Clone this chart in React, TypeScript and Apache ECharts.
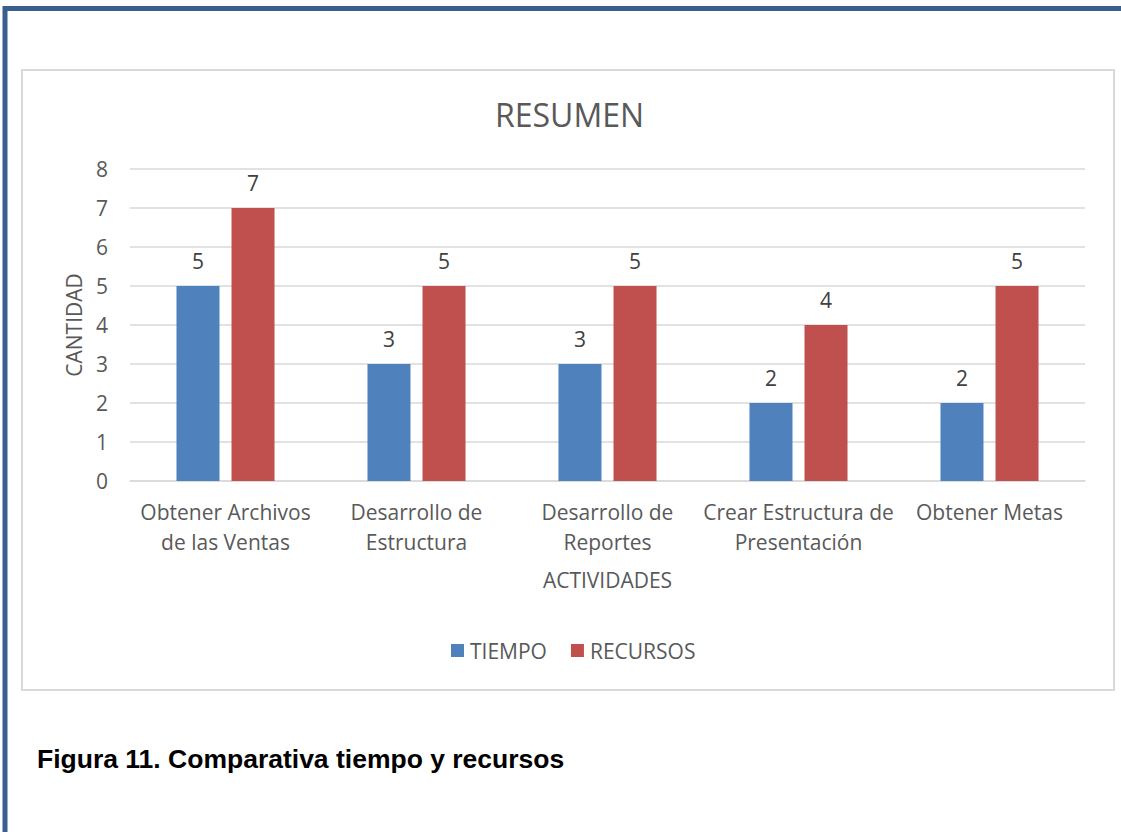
import React, { useEffect, useRef } from "react";
import * as echarts from "echarts";

const categories = [
  "Obtener Archivos\nde las Ventas",
  "Desarrollo de\nEstructura",
  "Desarrollo de\nReportes",
  "Crear Estructura de\nPresentación",
  "Obtener Metas",
];
const tiempo = [5, 3, 3, 2, 2];
const recursos = [7, 5, 5, 4, 5];
const seriesNames = ["TIEMPO", "RECURSOS"];
const titleText = "RESUMEN";
const yName = "CANTIDAD";
const xName = "ACTIVIDADES";
const caption = "Figura 11. Comparativa tiempo y recursos";

const FONT = "'Open Sans', Lato, sans-serif";
const TXT = "#595959";

export default function App() {
  const ref = useRef<HTMLDivElement>(null);
  useEffect(() => {
    const chart = echarts.init(ref.current!, null, { renderer: "svg" });
    chart.setOption({
      animation: false,
      backgroundColor: "#ffffff",
      textStyle: { fontFamily: FONT },
      title: {
        text: titleText,
        left: 490,
        top: 93,
        textStyle: { fontFamily: FONT, fontSize: 32, fontWeight: "normal", color: TXT },
      },
      legend: {
        data: seriesNames,
        top: 635,
        left: 446,
        itemWidth: 13,
        itemHeight: 13,
        itemGap: 24,
        icon: "rect",
        textStyle: { fontFamily: FONT, fontSize: 21, color: TXT, padding: [0, 0, 0, 1] },
      },
      grid: { left: 130, right: 36, top: 169, bottom: 351, containLabel: false },
      xAxis: {
        type: "category",
        data: categories,
        name: xName,
        nameLocation: "middle",
        nameGap: 88,
        nameTextStyle: { fontFamily: FONT, fontSize: 21, color: TXT },
        axisLine: { lineStyle: { color: "#d9d9d9", width: 1.5 } },
        axisTick: { show: false },
        axisLabel: { fontFamily: FONT, fontSize: 21, color: TXT, lineHeight: 30, margin: 16, interval: 0 },
      },
      yAxis: {
        type: "value",
        min: 0,
        max: 8,
        interval: 1,
        name: yName,
        nameLocation: "middle",
        nameGap: 46,
        nameTextStyle: { fontFamily: FONT, fontSize: 21, color: TXT },
        axisLine: { show: false },
        axisTick: { show: false },
        axisLabel: { fontFamily: FONT, fontSize: 21, color: TXT, margin: 22 },
        splitLine: { lineStyle: { color: "#d9d9d9", width: 1.5 } },
      },
      series: [
        {
          name: seriesNames[0],
          type: "bar",
          data: tiempo,
          barWidth: 43,
          barGap: "28%",
          itemStyle: { color: "#4f81bd" },
          label: { show: true, position: "top", distance: 15, fontFamily: FONT, fontSize: 21, color: "#404040" },
        },
        {
          name: seriesNames[1],
          type: "bar",
          data: recursos,
          barWidth: 43,
          itemStyle: { color: "#c0504d" },
          label: { show: true, position: "top", distance: 15, fontFamily: FONT, fontSize: 21, color: "#404040" },
        },
      ],
      graphic: [
        {
          type: "rect",
          shape: { x: 22, y: 70, width: 1092, height: 620 },
          style: { fill: "none", stroke: "#d9d9d9", lineWidth: 2 },
          silent: true,
        },
        {
          type: "polyline",
          shape: { points: [[5, 832], [5, 8.5], [1121, 8.5]] },
          style: { fill: "none", stroke: "#3a5f8f", lineWidth: 5 },
          silent: true,
        },
        {
          type: "text",
          x: 37,
          y: 759,
          style: {
            text: caption,
            font: "bold 26.5px 'Liberation Sans', Arial, sans-serif",
            fill: "#000000",
            verticalAlign: "middle",
          },
        },
      ],
    });
    return () => chart.dispose();
  }, []);
  return (
    <div style={{ position: "fixed", left: 0, top: 0, width: 1121, height: 832 }}>
      <div ref={ref} style={{ width: 1121, height: 832 }} />
    </div>
  );
}
